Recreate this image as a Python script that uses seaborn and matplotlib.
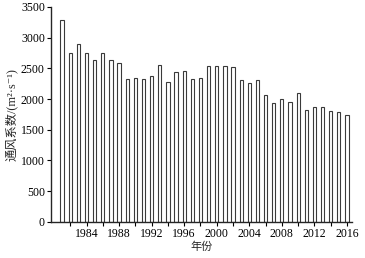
import pandas as pd
import matplotlib
matplotlib.use("Agg")
import matplotlib.pyplot as plt
import seaborn as sns

# data
years = list(range(1981, 2017))
values = [3290, 2750, 2900, 2750, 2635, 2750, 2635, 2580, 2335, 2350,
          2330, 2380, 2555, 2270, 2445, 2460, 2325, 2350, 2545, 2545,
          2540, 2520, 2305, 2255, 2305, 2070, 1940, 2005, 1950, 2105,
          1830, 1875, 1875, 1800, 1790, 1745]
tick_years = list(range(1982, 2017, 2))
tick_labels = [str(y) if y % 4 == 0 else "" for y in tick_years]

df = pd.DataFrame({"year": years, "value": values})

sns.set_style("ticks")
plt.rcParams["font.family"] = ["Liberation Serif", "Noto Sans CJK SC", "DejaVu Serif"]
plt.rcParams["axes.linewidth"] = 1.0

fig = plt.figure(figsize=(3.65, 2.58), dpi=100)
ax = fig.add_axes([0.140, 0.140, 0.824, 0.833])

sns.barplot(data=df, x="year", y="value", native_scale=True, ax=ax,
            width=0.4, color="white", edgecolor="#3a3a3a", linewidth=0.8,
            errorbar=None)

ax.set_xlim(1979.65, 2016.6)
ax.set_ylim(0, 3500)
ax.set_yticks(range(0, 3501, 500))
ax.set_xticks(tick_years)
ax.set_xticklabels(tick_labels)
ax.tick_params(axis="both", labelsize=8.5, length=3, width=0.8, pad=1.5, colors="black")

ax.set_xlabel("年份", family=["Noto Sans CJK SC"], fontsize=8, labelpad=1)
ax.set_ylabel("通风系数/(m²·s⁻¹)",
              family=["Liberation Serif", "Noto Sans CJK SC", "DejaVu Serif"],
              fontsize=8.8, labelpad=2.5)
sns.despine(ax=ax)

fig.savefig("out.png", dpi=100)
